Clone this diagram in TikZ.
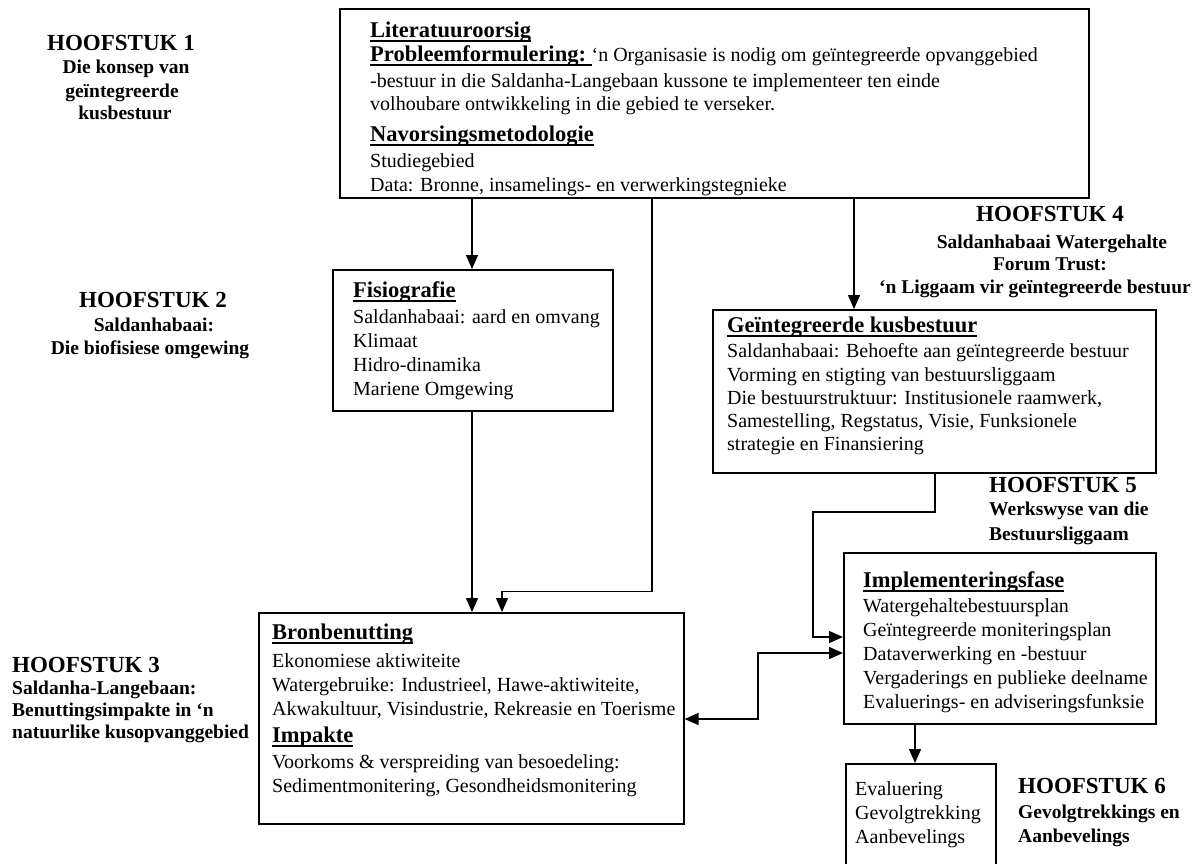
\documentclass[tikz,border=0pt]{standalone}
\usepackage{fontspec}
\setmainfont{Liberation Serif}
\usetikzlibrary{arrows.meta}
\newcommand{\hul}[1]{\setbox0\hbox{#1}\rlap{\rule[-4.5pt]{\wd0}{2pt}}\box0}
\newcommand{\bodyf}{\fontsize{20}{24}\selectfont}
\newcommand{\topf}{\fontsize{20}{24}\selectfont}
\newcommand{\headf}{\fontsize{22.5}{26}\selectfont\bfseries}
\newcommand{\chapf}{\fontsize{23}{26}\selectfont\bfseries}
\newcommand{\subf}{\fontsize{19.5}{23}\selectfont\bfseries}
\begin{document}
\begin{tikzpicture}[x=1pt,y=-1pt,
  box/.style={draw, line width=1.6pt, anchor=north west, inner sep=0pt},
  arr/.style={line width=1.3pt, -{Triangle[length=14pt,width=12pt]}},
  darr/.style={line width=1.3pt, {Triangle[length=14pt,width=12pt]}-{Triangle[length=14pt,width=12pt]}},
  txt/.style={anchor=base west, inner sep=0pt, font=\bodyf},
  ttxt/.style={anchor=base west, inner sep=0pt, font=\topf},
  hd/.style={anchor=base west, inner sep=0pt, font=\headf},
  chw/.style={anchor=base west, inner sep=0pt, font=\chapf},
  chc/.style={anchor=base, inner sep=0pt, font=\chapf},
  sbw/.style={anchor=base west, inner sep=0pt, font=\subf},
  sbc/.style={anchor=base, inner sep=0pt, font=\subf}]
\useasboundingbox (0,0) rectangle (1201,863);
\fill[white] (0,0) rectangle (1201,863);

% boxes
\node[box, minimum width=749pt, minimum height=189pt] (top) at (339,8) {};
\node[box, minimum width=280pt, minimum height=141pt] (fis) at (332,269) {};
\node[box, minimum width=425pt, minimum height=211pt] (bron) at (258,612) {};
\node[box, minimum width=443pt, minimum height=163pt] (gei) at (712,309) {};
\node[box, minimum width=312pt, minimum height=171pt] (imp) at (843,552) {};
\node[box, minimum width=150pt, minimum height=130pt] (eval) at (845,763) {};

% top box text
\node[hd] (t1) at (370,37) {\hul{Literatuuroorsig}};
\node[ttxt] (t2) at (370,61) {{\headf\hul{Probleemformulering:\ }}‘n Organisasie is nodig om geïntegreerde opvanggebied};
\node[ttxt] (t3) at (370,87) {-bestuur in die Saldanha-Langebaan kussone te implementeer ten einde};
\node[ttxt] (t4) at (370,110) {volhoubare ontwikkeling in die gebied te verseker.};
\node[hd] (t5) at (370,141) {\hul{Navorsingsmetodologie}};
\node[ttxt] (t6) at (370,167) {Studiegebied};
\node[ttxt] (t7) at (370,191) {Data: Bronne, insamelings- en verwerkingstegnieke};

% fisiografie
\node[hd] (f1) at (353,297) {\hul{Fisiografie}};
\node[txt] (f2) at (353,323) {Saldanhabaai: aard en omvang};
\node[txt] (f3) at (353,347) {Klimaat};
\node[txt] (f4) at (353,371) {Hidro-dinamika};
\node[txt] (f5) at (353,395) {Mariene Omgewing};

% bronbenutting
\node[hd] (b1) at (272,639) {\hul{Bronbenutting}};
\node[txt] (b2) at (272,667) {Ekonomiese aktiwiteite};
\node[txt] (b3) at (272,691) {Watergebruike: Industrieel, Hawe-aktiwiteite,};
\node[txt] (b4) at (272,715) {Akwakultuur, Visindustrie, Rekreasie en Toerisme};
\node[hd] (b5) at (272,742) {\hul{Impakte}};
\node[txt] (b6) at (272,768) {Voorkoms \& verspreiding van besoedeling:};
\node[txt] (b7) at (272,792) {Sedimentmonitering, Gesondheidsmonitering};

% geintegreerde kusbestuur
\node[hd] (g1) at (727,332) {\hul{Geïntegreerde kusbestuur}};
\node[txt] (g2) at (727,357) {Saldanhabaai: Behoefte aan geïntegreerde bestuur};
\node[txt] (g3) at (727,381) {Vorming en stigting van bestuursliggaam};
\node[txt] (g4) at (727,404) {Die bestuurstruktuur: Institusionele raamwerk,};
\node[txt] (g5) at (727,427) {Samestelling, Regstatus, Visie, Funksionele};
\node[txt] (g6) at (727,450) {strategie en Finansiering};

% implementeringsfase
\node[hd] (i1) at (863,587) {\hul{Implementeringsfase}};
\node[txt] (i2) at (863,612) {Watergehaltebestuursplan};
\node[txt] (i3) at (863,636) {Geïntegreerde moniteringsplan};
\node[txt] (i4) at (863,660) {Dataverwerking en -bestuur};
\node[txt] (i5) at (863,684) {Vergaderings en publieke deelname};
\node[txt] (i6) at (863,708) {Evaluerings- en adviseringsfunksie};

% evaluering
\node[txt] (e1) at (855,795) {Evaluering};
\node[txt] (e2) at (855,819) {Gevolgtrekking};
\node[txt] (e3) at (855,843) {Aanbevelings};

% chapter labels
\node[chc] (h1) at (121,50) {HOOFSTUK 1};
\node[sbc] (h1a) at (126,73) {Die konsep van};
\node[sbc] (h1b) at (122,97) {geïntegreerde};
\node[sbc] (h1c) at (125,119) {kusbestuur};

\node[chc] (h2) at (153,307) {HOOFSTUK 2};
\node[sbc] (h2a) at (154,331) {Saldanhabaai:};
\node[sbc] (h2b) at (150,354) {Die biofisiese omgewing};

\node[chw] (h3) at (12,672) {HOOFSTUK 3};
\node[sbw] (h3a) at (12,694) {Saldanha-Langebaan:};
\node[sbw] (h3b) at (12,716) {Benuttingsimpakte in ‘n};
\node[sbw] (h3c) at (12,738) {natuurlike kusopvanggebied};

\node[chc] (h4) at (1050,221) {HOOFSTUK 4};
\node[sbc] (h4a) at (1052,248) {Saldanhabaai Watergehalte};
\node[sbc] (h4b) at (1050,270) {Forum Trust:};
\node[sbc] (h4c) at (1035,293) {‘n Liggaam vir geïntegreerde bestuur};

\node[chw] (h5) at (989,492) {HOOFSTUK 5};
\node[sbw] (h5a) at (989,515) {Werkswyse van die};
\node[sbw] (h5b) at (989,540) {Bestuursliggaam};

\node[chw] (h6) at (1018,793) {HOOFSTUK 6};
\node[sbw] (h6a) at (1018,818) {Gevolgtrekkings en};
\node[sbw] (h6b) at (1018,842) {Aanbevelings};

% connectors
\coordinate (k1) at (813,512);
\coordinate (k2) at (758,690);
\draw[arr] ([xshift=133pt]top.south west) -- ([xshift=140pt]fis.north west);
\draw[arr] ([xshift=313pt]top.south west) -- ++(0,393) -| ([xshift=244pt]bron.north west);
\draw[arr] ([xshift=140pt]fis.south west) -- ([xshift=214pt]bron.north west);
\draw[arr] ([xshift=515pt]top.south west) -- ([xshift=142pt]gei.north west);
\draw[arr] ([xshift=223pt]gei.south west) |- (k1) |- ([yshift=-85pt]imp.north west);
\draw[darr] ([yshift=-107pt]bron.north east) -| (k2) |- ([yshift=-101pt]imp.north west);
\draw[arr] ([xshift=72pt]imp.south west) -- ([xshift=70pt]eval.north west);
\end{tikzpicture}
\end{document}
